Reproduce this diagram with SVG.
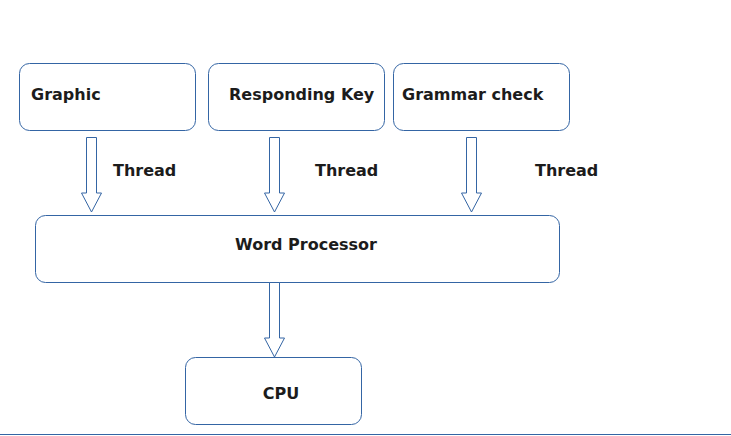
<svg xmlns="http://www.w3.org/2000/svg" width="731" height="436" viewBox="0 0 731 436">
<style>
.box{fill:#ffffff;stroke:#3465a4;stroke-width:1}
.arr{fill:#ffffff;stroke:#3465a4;stroke-width:1;stroke-linejoin:miter}
.t{font-family:"DejaVu Sans",sans-serif;font-weight:bold;font-size:16px;fill:#1c1c1c}
</style>
<rect width="731" height="436" fill="#ffffff"/>
<g id="graphic"><rect class="box" x="19.5" y="63.5" width="176" height="67" rx="10"/><text class="t" x="31" y="100">Graphic</text></g>
<g id="responding-key"><rect class="box" x="208.5" y="63.5" width="176" height="67" rx="10"/><text class="t" x="229" y="100">Responding Key</text></g>
<g id="grammar-check"><rect class="box" x="393.5" y="63.5" width="176" height="67" rx="10"/><text class="t" x="402" y="100">Grammar check</text></g>
<g id="word-processor"><rect class="box" x="35.5" y="215.5" width="524" height="67" rx="10"/><text class="t" x="306" y="250" text-anchor="middle">Word Processor</text></g>
<g id="cpu"><rect class="box" x="185.5" y="357.5" width="176" height="67" rx="10"/><text class="t" x="281" y="399" text-anchor="middle">CPU</text></g>
<g id="connectors">
<path class="arr" d="M86.5,137.5 H96.5 V193 H101.5 L91.5,212 L81.5,193 H86.5 Z"/>
<path class="arr" d="M269.5,137.5 H279.5 V193 H284.5 L274.5,212 L264.5,193 H269.5 Z"/>
<path class="arr" d="M466.5,137.5 H476.5 V193 H481.5 L471.5,212 L461.5,193 H466.5 Z"/>
<path class="arr" d="M269.5,282.5 H279.5 V338 H284.5 L274.5,357 L264.5,338 H269.5 Z"/>
<text class="t" x="113" y="176">Thread</text>
<text class="t" x="315" y="176">Thread</text>
<text class="t" x="535" y="176">Thread</text>
</g>
<line x1="0" y1="434.5" x2="731" y2="434.5" stroke="#3465a4" stroke-width="1"/>
</svg>
